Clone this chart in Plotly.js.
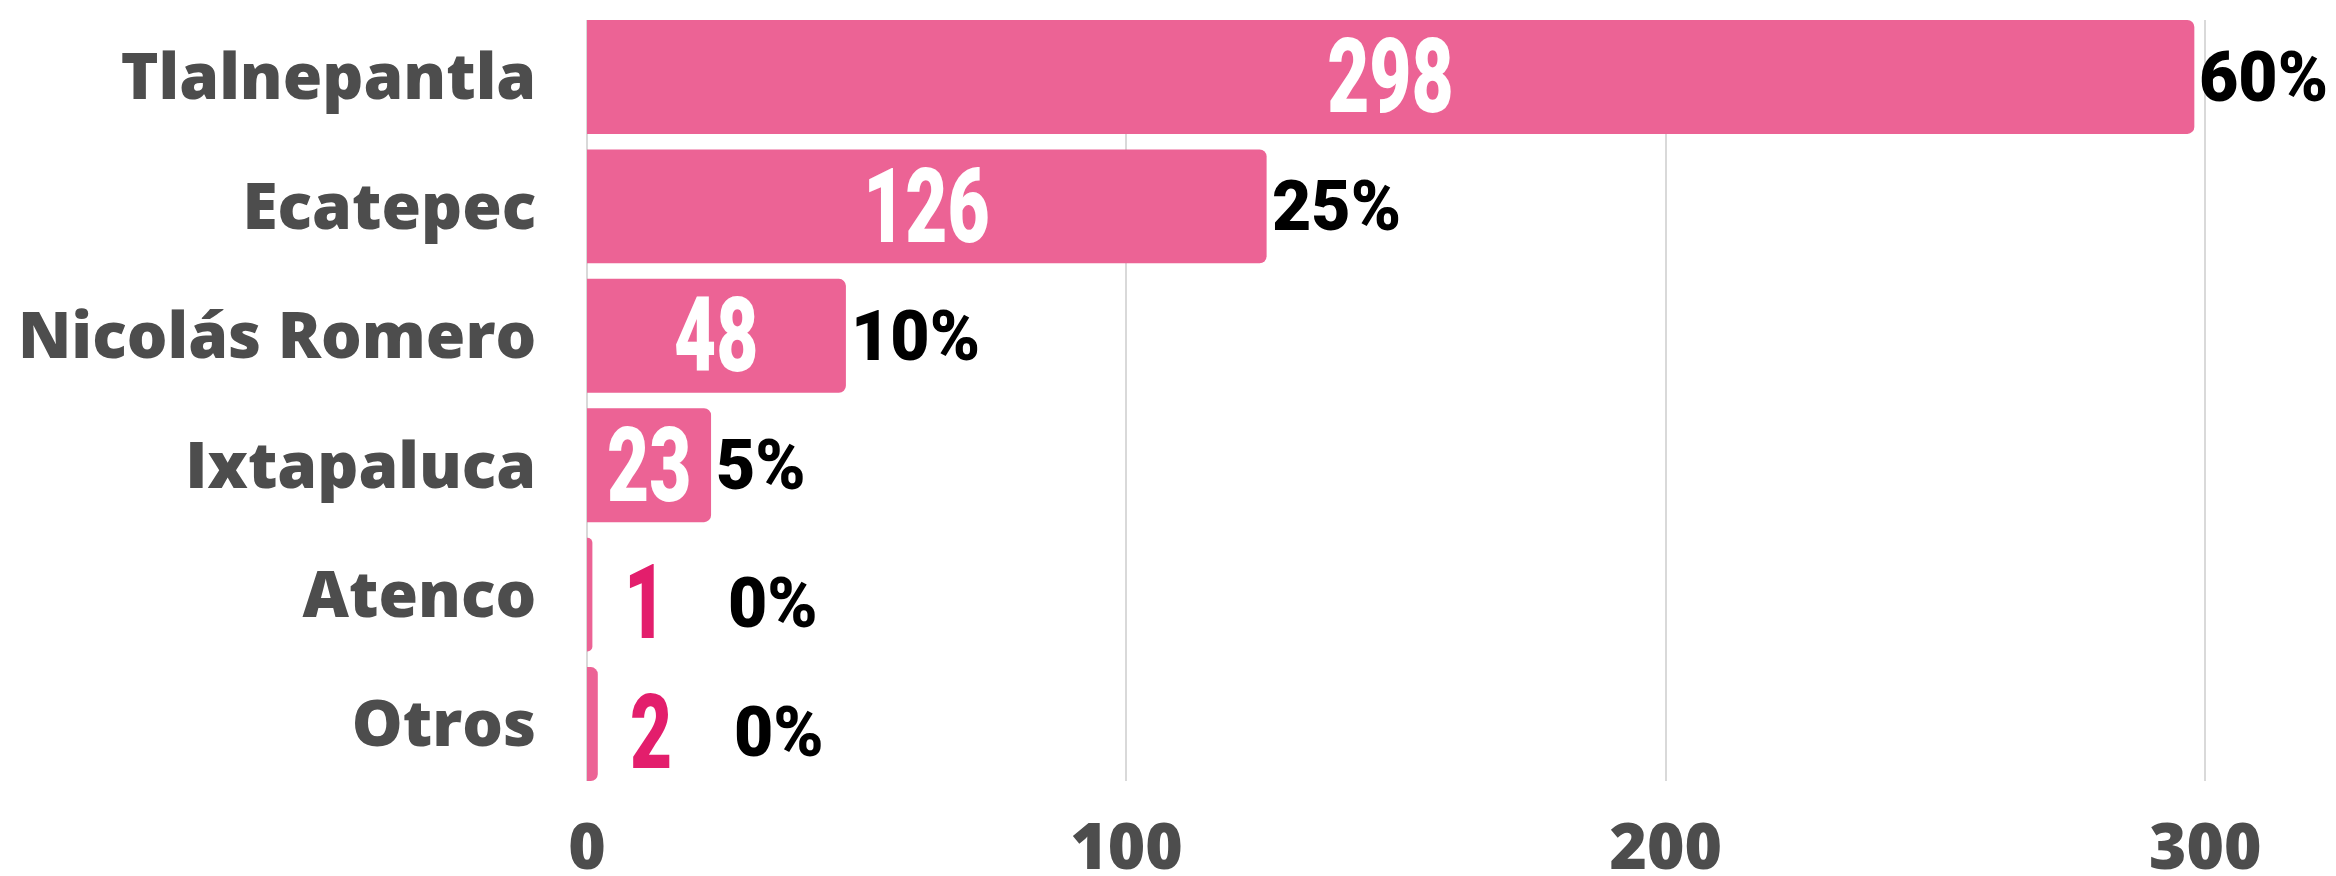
<!DOCTYPE html>
<html>
<head>
<meta charset="utf-8">
<script src="https://cdn.plot.ly/plotly-3.0.1.min.js"></script>
<style>
  html, body { margin: 0; padding: 0; background: #ffffff; }
  #chart { width: 2336px; height: 876px; }
</style>
</head>
<body>
<div id="chart"></div>
<script>
// ---- data ----
const categories = ["Tlalnepantla", "Ecatepec", "Nicolás Romero", "Ixtapaluca", "Atenco", "Otros"];
const values = [298, 126, 48, 23, 1, 2];
const percentLabels = ["60%", "25%", "10%", "5%", "0%", "0%"];
const xTickValues = [0, 100, 200, 300];
const xTickLabels = ["0", "100", "200", "300"];

// ---- styles ----
const barColor = "#EC6395";
const outsideColor = "#E31E6C";
const labelGray = "#4D4D4D";
const numFont = "Roboto, 'Liberation Sans', sans-serif";
const smallThreshold = 10;
const valueSqueeze = 0.70;
const percentSqueeze = 0.97;

const trace = {
  type: "bar",
  orientation: "h",
  y: categories,
  x: values,
  marker: { color: barColor },
  hoverinfo: "none"
};

const annotations = [];
const squeeze = [];
categories.forEach((c, i) => {
  const v = values[i];
  const inside = v >= smallThreshold;
  annotations.push({
    x: inside ? v / 2 : v,
    y: c,
    xref: "x", yref: "y",
    text: String(v),
    showarrow: false,
    xanchor: inside ? "center" : "left",
    yanchor: "middle",
    xshift: inside ? 0 : 30,
    yshift: inside ? 0 : -8,
    font: { family: numFont, size: 104, weight: 900, color: inside ? "#ffffff" : outsideColor }
  });
  squeeze.push(valueSqueeze);
  annotations.push({
    x: v,
    y: c,
    xref: "x", yref: "y",
    text: percentLabels[i],
    showarrow: false,
    xanchor: "left",
    yanchor: "middle",
    xshift: inside ? 3 : 134,
    yshift: inside ? 0 : -8,
    font: { family: numFont, size: 70, weight: 900, color: "#000000" }
  });
  squeeze.push(percentSqueeze);
});

const layout = {
  width: 2336,
  height: 876,
  margin: { l: 587, r: 23, t: 20, b: 95 },
  paper_bgcolor: "#ffffff",
  plot_bgcolor: "#ffffff",
  showlegend: false,
  bargap: 0.12,
  barcornerradius: 7,
  xaxis: {
    range: [0, 320],
    tickvals: xTickValues,
    ticktext: xTickLabels,
    showgrid: true,
    gridcolor: "#D9D9D9",
    gridwidth: 2,
    zeroline: true,
    zerolinecolor: "#D9D9D9",
    zerolinewidth: 2,
    showline: false,
    ticks: "outside",
    ticklen: 0,
    tickcolor: "rgba(0,0,0,0)",
    ticklabelstandoff: 10,
    tickfont: { family: "'Open Sans', sans-serif", size: 64, weight: 800, color: labelGray },
    fixedrange: true
  },
  yaxis: {
    type: "category",
    categoryorder: "array",
    categoryarray: categories,
    autorange: false,
    range: [5.44, -0.44],
    showgrid: false,
    zeroline: false,
    showline: false,
    ticks: "outside",
    ticklen: 0,
    tickcolor: "rgba(0,0,0,0)",
    ticklabelstandoff: 37,
    tickfont: { family: "'Open Sans', sans-serif", size: 64, weight: 800, color: labelGray },
    fixedrange: true
  },
  annotations: annotations,
  hovermode: false
};

// Narrow the number labels horizontally (condensed look) around their anchor point.
function condense(gd) {
  gd.querySelectorAll("g.annotation").forEach(g => {
    const idx = +g.getAttribute("data-index");
    const ann = annotations[idx];
    const t = g.querySelector("text.annotation-text");
    if (!ann || !t) return;
    const bb = t.getBBox();
    const ax = ann.xanchor === "center" ? bb.x + bb.width / 2 : bb.x;
    const s = squeeze[idx];
    t.setAttribute("transform", `translate(${ax},0) scale(${s},1) translate(${-ax},0)`);
  });
}

Plotly.newPlot("chart", [trace], layout, { displayModeBar: false, staticPlot: true })
  .then(gd => condense(gd));
</script>
</body>
</html>
